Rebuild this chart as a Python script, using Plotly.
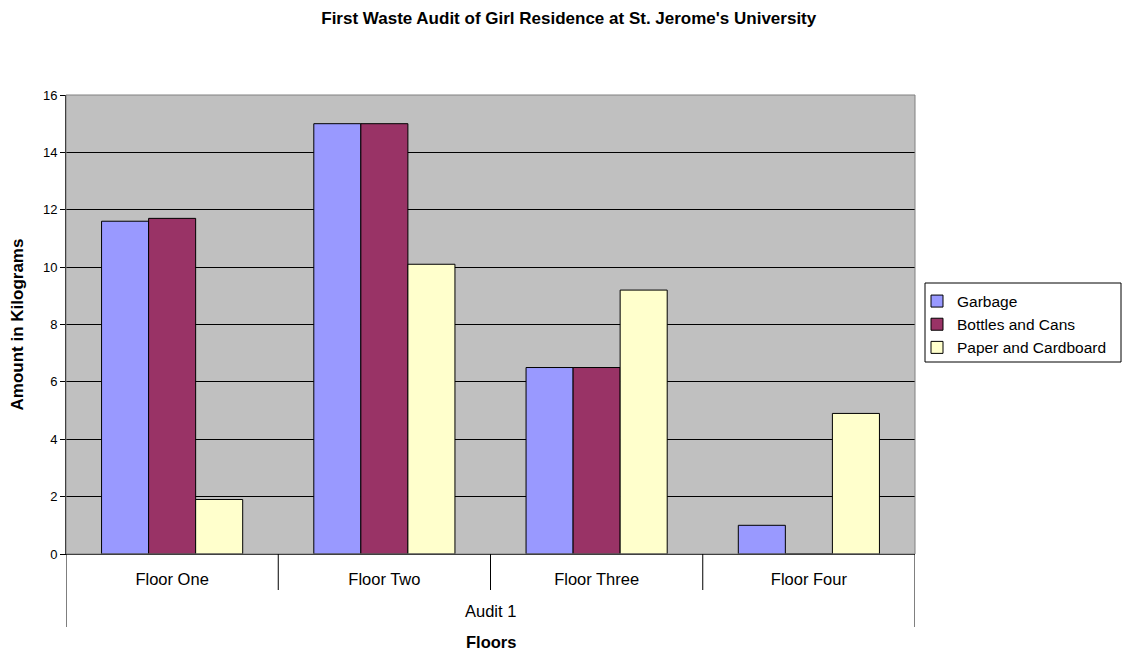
import plotly.graph_objects as go

# Waste audit data (kg per floor)
audit_label = "Audit 1"
floors = ["Floor One", "Floor Two", "Floor Three", "Floor Four"]
garbage = [11.6, 15.0, 6.5, 1.0]
bottles_cans = [11.7, 15.0, 6.5, 0]
paper_cardboard = [1.9, 10.1, 9.2, 4.9]

series = [
    ("Garbage", garbage, "#9999FF"),
    ("Bottles and Cans", bottles_cans, "#993366"),
    ("Paper and Cardboard", paper_cardboard, "#FFFFCC"),
]

FONT = "Liberation Sans, Arial, sans-serif"
PLOT_H = 459  # plot-area height in px, used for paper-coordinate offsets
PLOT_W = 849  # plot-area width in px

fig = go.Figure()
for name, vals, color in series:
    fig.add_trace(go.Bar(
        x=floors,
        y=vals,
        name=name,
        marker=dict(color=color, line=dict(color="#000000", width=1)),
    ))

fig.update_layout(
    width=1124,
    height=653,
    margin=dict(l=66, r=209, t=95, b=99),
    paper_bgcolor="white",
    plot_bgcolor="#C0C0C0",
    barmode="group",
    bargap=0.335,
    bargroupgap=0,
    font=dict(family=FONT, size=12, color="#000000"),
    title=dict(
        text="<b>First Waste Audit of Girl Residence at St. Jerome's University</b>",
        x=0.506, xanchor="center", y=0.972, yanchor="middle",
        font=dict(family=FONT, size=17),
    ),
    legend=dict(
        x=(917 - 66) / PLOT_W, xanchor="left", y=0.5, yanchor="middle",
        borderwidth=0, bgcolor="rgba(0,0,0,0)",
        font=dict(family=FONT, size=15.5),
        tracegroupgap=0,
    ),
    showlegend=True,
)

fig.update_xaxes(
    type="category",
    range=[-0.5, len(floors) - 0.5],
    showline=True, linecolor="#000000", linewidth=1,
    ticks="", ticklabelstandoff=10,
    tickfont=dict(family=FONT, size=16.5),
)
fig.update_yaxes(
    range=[0, 16], dtick=2,
    showline=True, linecolor="#000000", linewidth=1,
    ticks="outside", ticklen=5, tickcolor="#000000",
    showgrid=True, gridcolor="#000000", gridwidth=1,
    zeroline=False,
    tickfont=dict(family=FONT, size=13),
    title=dict(text="<b>Amount in Kilograms</b>", font=dict(family=FONT, size=17), standoff=14),
)

# plot-area frame
fig.add_shape(type="rect", xref="paper", yref="paper", x0=0, y0=0, x1=1, y1=1,
              line=dict(color="#808080", width=1), fillcolor="rgba(0,0,0,0)", layer="above")

# legend frame
fig.add_shape(type="rect", xref="paper", yref="paper",
              x0=(925 - 66) / PLOT_W, x1=(1121 - 66) / PLOT_W,
              y0=(554 - 362) / PLOT_H, y1=(554 - 283) / PLOT_H,
              line=dict(color="#000000", width=1), fillcolor="rgba(0,0,0,0)")

# category dividers below the axis: short ones between floors, long ones at the ends
n = len(floors)
for i in range(n + 1):
    edge = i in (0, n)
    fig.add_shape(type="line", xref="x", yref="paper",
                  x0=i - 0.5, x1=i - 0.5, y0=0,
                  y1=-(73 if edge else 36) / PLOT_H,
                  line=dict(color="#000000", width=1))

# outer category label and axis title
fig.add_annotation(x=(n - 1) / 2, xref="x", y=-(611 - 554) / PLOT_H, yref="paper",
                   text=audit_label, showarrow=False, yanchor="middle",
                   font=dict(family=FONT, size=16.5))
fig.add_annotation(x=0.5, xref="paper", y=-(642 - 554) / PLOT_H, yref="paper",
                   text="<b>Floors</b>", showarrow=False, yanchor="middle",
                   font=dict(family=FONT, size=16.5))

fig.write_html("out.html")
